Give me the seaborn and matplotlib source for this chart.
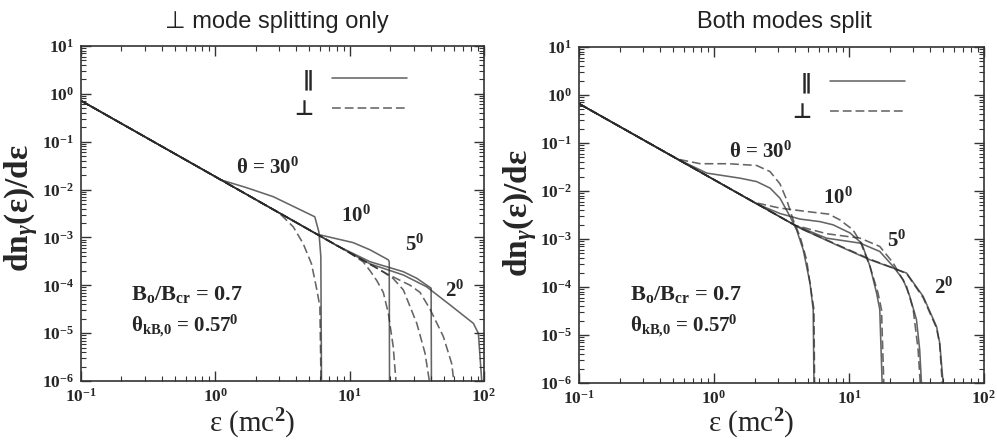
import numpy as np
import pandas as pd
import matplotlib
matplotlib.use("Agg")
import matplotlib.pyplot as plt
import seaborn as sns
from matplotlib.lines import Line2D
from matplotlib.ticker import LogLocator, FuncFormatter, NullFormatter

# ---------------- data ----------------
# Left panel: "perp mode splitting only"
L_eps_par30 = [0.1, 1.0, 1.08, 1.7, 2.7, 5.5, 5.9, 6.1, 6.17]
L_dn_par30 = [0.72, 0.0186, 0.0162, 0.011, 7.1e-3, 2.7e-3, 1.3e-3, 4.0e-4, 1e-6]
L_eps_perp30 = [0.1, 1.0, 3.0, 3.8, 4.5, 5.2, 5.7, 6.0, 6.12]
L_dn_perp30 = [0.72, 0.0186, 3.2e-3, 1.67e-3, 7.5e-4, 2.8e-4, 8.0e-5, 3.6e-5, 1e-6]
L_eps_par10 = [0.1, 1.0, 5.7, 10.6, 14.2, 19.4, 19.7, 19.8]
L_dn_par10 = [0.72, 0.0186, 1.17e-3, 7.8e-4, 5.5e-4, 3.4e-4, 3.1e-4, 1e-6]
L_eps_perp10 = [0.1, 1.0, 9.5, 12.6, 14.2, 15.9, 17.8, 19.4, 21.1, 22.1]
L_dn_perp10 = [0.72, 0.0186, 5.2e-4, 3.1e-4, 2.0e-4, 1.26e-4, 7.1e-5, 2.6e-5, 5.2e-6, 1e-6]
L_eps_par5 = [0.1, 1.0, 7.9, 14.2, 25.1, 31.6, 37.4, 40.4, 40.6]
L_dn_par5 = [0.72, 0.0186, 6.9e-4, 3.1e-4, 1.92e-4, 1.4e-4, 1.01e-4, 8.7e-5, 1e-6]
L_eps_perp5 = [0.1, 1.0, 16.8, 21.0, 25.1, 31.6, 36.4, 39.2]
L_dn_perp5 = [0.72, 0.0186, 2.1e-4, 1.4e-4, 8.0e-5, 1.6e-5, 3.8e-6, 1e-6]
L_eps_par2 = [0.1, 1.0, 10.0, 14.2, 25.1, 37.4, 55.8, 83.4, 90.8, 96.2]
L_dn_par2 = [0.72, 0.0186, 4.8e-4, 2.8e-4, 1.64e-4, 9.3e-5, 3.9e-5, 1.6e-5, 9.9e-6, 1e-6]
L_eps_perp2 = [0.1, 1.0, 18.9, 28.2, 33.4, 39.6, 49.8, 57.5, 59.6]
L_dn_perp2 = [0.72, 0.0186, 1.74e-4, 1.0e-4, 7.1e-5, 3.2e-5, 8.5e-6, 2.3e-6, 1e-6]

# Right panel: "Both modes split"
R_eps_par30 = [0.1, 0.55, 0.885, 1.56, 2.07, 2.60, 3.08, 3.66, 4.09, 4.58, 5.14, 5.43, 5.50]
R_dn_par30 = [0.66, 0.0447, 0.0236, 0.0185, 0.0157, 0.0115, 7.1e-3, 2.94e-3, 1.55e-3, 5.96e-4, 1.21e-4, 3.36e-5, 1e-6]
R_eps_perp30 = [0.1, 0.54, 0.79, 1.29, 2.07, 2.60, 3.08, 3.45, 3.86, 4.34, 4.85, 5.14, 5.50, 5.56]
R_dn_perp30 = [0.66, 0.046, 0.037, 0.037, 0.034, 0.0254, 0.0141, 6.6e-3, 2.5e-3, 1.12e-3, 3.7e-4, 1.2e-4, 3.4e-5, 1e-6]
R_eps_par10 = [0.1, 2.07, 3.08, 4.34, 6.10, 7.64, 10.2, 12.4, 14.3, 16.0, 16.9, 17.6]
R_dn_par10 = [0.66, 5.4e-3, 3.4e-3, 2.6e-3, 2.3e-3, 1.97e-3, 1.33e-3, 8.2e-4, 2.7e-4, 7.5e-5, 3.4e-5, 1e-6]
R_eps_perp10 = [0.1, 2.0, 3.08, 5.43, 7.08, 8.57, 10.7, 12.1, 14.3, 16.4, 17.4, 18.1]
R_dn_perp10 = [0.66, 5.75e-3, 4.4e-3, 3.6e-3, 3.3e-3, 2.5e-3, 1.55e-3, 8.9e-4, 2.7e-4, 7.5e-5, 3.4e-5, 1e-6]
R_eps_par5 = [0.1, 3.98, 6.82, 12.1, 16.9, 21.2, 25.2, 28.2, 31.6, 33.4, 34.4]
R_dn_par5 = [0.66, 1.93e-3, 1.04e-3, 8.2e-4, 5.5e-4, 2.7e-4, 1.42e-4, 6.4e-5, 2.1e-5, 4.9e-6, 1e-6]
R_eps_perp5 = [0.1, 3.98, 6.82, 12.1, 16.9, 21.2, 26.7, 29.9, 32.5, 33.7]
R_dn_perp5 = [0.66, 1.93e-3, 1.29e-3, 1.04e-3, 7.0e-4, 3.2e-4, 1.03e-4, 3.4e-5, 4.9e-6, 1e-6]
R_eps_par2 = [0.1, 4.36, 8.57, 14.3, 21.2, 26.7, 35.4, 44.5, 47.0, 49.8]
R_dn_par2 = [0.66, 1.67e-3, 6.98e-4, 3.69e-4, 2.48e-4, 1.95e-4, 6.4e-5, 1.5e-5, 6.8e-6, 1e-6]
R_eps_perp2 = [0.1, 4.36, 8.57, 14.3, 21.2, 26.7, 35.4, 44.5, 47.0, 49.0]
R_dn_perp2 = [0.66, 1.67e-3, 7.2e-4, 3.8e-4, 2.5e-4, 1.9e-4, 6.0e-5, 1.4e-5, 6.3e-6, 1e-6]

panel_titles = ["\u22a5 mode splitting only", "Both modes split"]
theta_labels = ["\u03b8 = 30$^{0}$", "10$^{0}$", "5$^{0}$", "2$^{0}$"]
mode_labels = ["\u2225", "\u22a5"]
x_ticks = [0.1, 1, 10, 100]
y_ticks = [1e-6, 1e-5, 1e-4, 1e-3, 1e-2, 1e-1, 1, 10]

# ---------------- style ----------------
sns.set_style("ticks")
plt.rcParams["font.family"] = ["Liberation Serif", "DejaVu Serif"]
plt.rcParams["font.weight"] = "bold"
plt.rcParams["mathtext.fontset"] = "custom"
plt.rcParams["mathtext.rm"] = "Liberation Serif:bold"
plt.rcParams["mathtext.it"] = "Liberation Serif:italic:bold"
plt.rcParams["mathtext.bf"] = "Liberation Serif:bold"
plt.rcParams["axes.linewidth"] = 1.2
plt.rcParams["axes.edgecolor"] = "#333333"

LINE_COLOR = "#2a2a2a"
LINE_ALPHA = 0.72
LW = 1.15
DASH = (5.5, 2.5)


def make_df(curves):
    frames = []
    for name, mode, eps, dn in curves:
        frames.append(pd.DataFrame({"eps": eps, "dn": dn, "curve": name, "mode": mode}))
    return pd.concat(frames, ignore_index=True)


left_df = make_df([
    ("par30", "par", L_eps_par30, L_dn_par30), ("perp30", "perp", L_eps_perp30, L_dn_perp30),
    ("par10", "par", L_eps_par10, L_dn_par10), ("perp10", "perp", L_eps_perp10, L_dn_perp10),
    ("par5", "par", L_eps_par5, L_dn_par5), ("perp5", "perp", L_eps_perp5, L_dn_perp5),
    ("par2", "par", L_eps_par2, L_dn_par2), ("perp2", "perp", L_eps_perp2, L_dn_perp2),
])
right_df = make_df([
    ("par30", "par", R_eps_par30, R_dn_par30), ("perp30", "perp", R_eps_perp30, R_dn_perp30),
    ("par10", "par", R_eps_par10, R_dn_par10), ("perp10", "perp", R_eps_perp10, R_dn_perp10),
    ("par5", "par", R_eps_par5, R_dn_par5), ("perp5", "perp", R_eps_perp5, R_dn_perp5),
    ("par2", "par", R_eps_par2, R_dn_par2), ("perp2", "perp", R_eps_perp2, R_dn_perp2),
])

W, H = 997, 444
fig = plt.figure(figsize=(W / 100, H / 100), dpi=100)
axL = fig.add_axes([81 / W, 1 - 381 / H, 403 / W, 335 / H])
axR = fig.add_axes([579 / W, 1 - 383 / H, 405 / W, 336 / H])

fmt = FuncFormatter(lambda v, p: r"$10^{%d}$" % int(round(np.log10(v))))

layout = {
    "L": dict(ax=axL, df=left_df, title_x=277, theta_pos=[(0.464, 0.636), (0.682, 0.493), (0.829, 0.406), (0.928, 0.269)],
              info_y=(0.257, 0.164), info_x=0.125, leg=(0.809, 0.930), ylab=(-0.149, 0.516), xlab=(0.424, -0.128)),
    "R": dict(ax=axR, df=right_df, title_x=784, theta_pos=[(0.447, 0.6875), (0.640, 0.551), (0.785, 0.423), (0.901, 0.283)],
              info_y=(0.262, 0.170), info_x=0.125, leg=(0.805, 0.925), ylab=(-0.146, 0.506), xlab=(0.426, -0.122)),
}

for i, key in enumerate(["L", "R"]):
    cfg = layout[key]
    ax = cfg["ax"]
    sns.lineplot(data=cfg["df"], x="eps", y="dn", units="curve", estimator=None, sort=False,
                 style="mode", style_order=["par", "perp"], dashes={"par": "", "perp": DASH},
                 color=LINE_COLOR, alpha=LINE_ALPHA, lw=LW, legend=False, ax=ax)
    ax.set_xscale("log")
    ax.set_yscale("log")
    ax.set_xlim(0.1, 100)
    ax.set_ylim(1e-6, 10)
    ax.set_xticks(x_ticks)
    ax.set_yticks(y_ticks)
    ax.xaxis.set_major_formatter(fmt)
    ax.yaxis.set_major_formatter(fmt)
    ax.xaxis.set_minor_locator(LogLocator(base=10, subs=np.arange(2, 10), numticks=20))
    ax.yaxis.set_minor_locator(LogLocator(base=10, subs=np.arange(2, 10), numticks=20))
    ax.xaxis.set_minor_formatter(NullFormatter())
    ax.yaxis.set_minor_formatter(NullFormatter())
    ax.tick_params(which="both", direction="in", top=True, right=True, color="#333333")
    ax.tick_params(which="major", length=7, width=1.0, labelsize=12.5, pad=5)
    ax.tick_params(which="minor", length=3.5, width=0.8)
    ax.set_xlabel("")
    ax.set_ylabel("")

    # axis labels
    ax.text(cfg["ylab"][0], cfg["ylab"][1], "dn$_{\u03b3}$(\u03b5)/d\u03b5", transform=ax.transAxes,
            rotation=90, ha="center", va="center", fontsize=24, fontweight="bold")
    ax.text(cfg["xlab"][0], cfg["xlab"][1], "\u03b5 (mc$^{2}$)", transform=ax.transAxes,
            ha="center", va="center", fontsize=21, fontweight="normal")

    # curve annotations
    for lab, (tx, ty) in zip(theta_labels, cfg["theta_pos"]):
        ax.text(tx, ty, lab, transform=ax.transAxes, ha="center", va="center", fontsize=15, fontweight="bold")
    ax.text(cfg["info_x"], cfg["info_y"][0], "B$_{\\mathrm{o}}$/B$_{\\mathrm{cr}}$ = 0.7", transform=ax.transAxes,
            ha="left", va="center", fontsize=16, fontweight="bold")
    ax.text(cfg["info_x"], cfg["info_y"][1], "\u03b8$_{\\mathrm{kB{,}0}}$ = 0.57$^{0}$", transform=ax.transAxes,
            ha="left", va="center", fontsize=15, fontweight="bold")

    # legend (mode styles)
    handles = [Line2D([], [], color=LINE_COLOR, alpha=LINE_ALPHA, lw=LW),
               Line2D([], [], color=LINE_COLOR, alpha=LINE_ALPHA, lw=LW, dashes=DASH)]
    ax.legend(handles, mode_labels, loc="upper right", bbox_to_anchor=cfg["leg"], bbox_transform=ax.transAxes,
              frameon=False, markerfirst=False, handlelength=3.6, handletextpad=0.9, labelspacing=0.45,
              borderpad=0, borderaxespad=0, prop={"family": ["DejaVu Sans"], "size": 15, "weight": "bold"})

    fig.text(cfg["title_x"] / W, 1 - 22 / H, panel_titles[i], ha="center", va="center",
             fontsize=17, family=["Liberation Sans", "DejaVu Sans"], fontweight="normal", color="#222222")

fig.savefig("out.png", dpi=100)
